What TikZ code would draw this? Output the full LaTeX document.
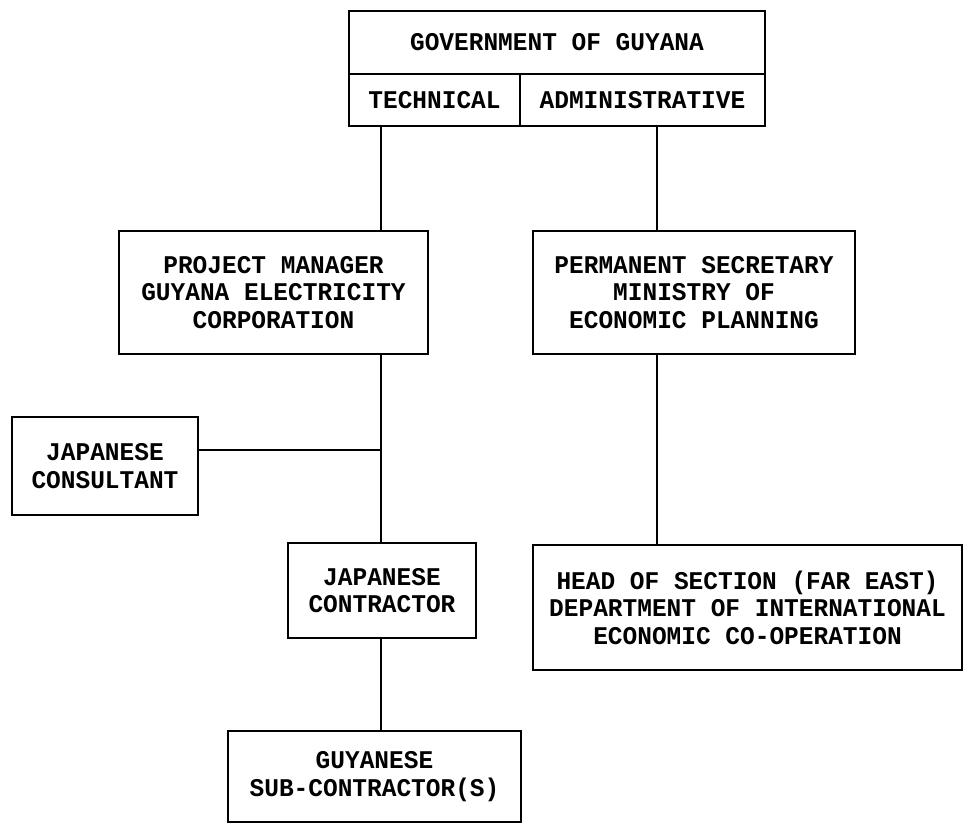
\documentclass[tikz,border=0pt]{standalone}
\usepackage{fontspec}
\setmonofont[FakeStretch=0.96]{Liberation Mono}
\begin{document}
\begin{tikzpicture}[x=1pt,y=-1pt,
  box/.style={draw, line width=1.6pt, inner sep=0pt, align=center,
    font=\ttfamily\bfseries\fontsize{25.5}{27.5}\selectfont},
  link/.style={line width=1.6pt}]
\useasboundingbox (0,0) rectangle (965,824);
% top box
\node[box, minimum width=416, minimum height=63] (gov) at (557,42.5) {GOVERNMENT OF GUYANA};
\node[box, minimum width=171, minimum height=52] (tech) at (434.5,100) {TECHNICAL};
\node[box, minimum width=245, minimum height=52] (admin) at (642.5,100) {ADMINISTRATIVE};
% second level
\node[box, minimum width=309, minimum height=123] (pm) at (273.5,292.5) {PROJECT MANAGER\\GUYANA ELECTRICITY\\CORPORATION};
\node[box, minimum width=322, minimum height=123] (ps) at (694,292.5) {PERMANENT SECRETARY\\MINISTRY OF\\ECONOMIC PLANNING};
% left branch
\node[box, minimum width=186, minimum height=98] (jc) at (105,466) {JAPANESE\\CONSULTANT};
\node[box, minimum width=188, minimum height=95] (con) at (382,590.5) {JAPANESE\\CONTRACTOR};
\node[box, minimum width=293, minimum height=91] (guy) at (374.5,776.5) {GUYANESE\\SUB-CONTRACTOR(S)};
% right branch
\node[box, minimum width=429, minimum height=125] (hos) at (747.5,607.5) {HEAD OF SECTION (FAR EAST)\\DEPARTMENT OF INTERNATIONAL\\ECONOMIC CO-OPERATION};
% spines
\coordinate (ls) at (381,0);
\coordinate (rs) at (657,0);
\coordinate (jl) at (0,450);
\draw[link] (tech.south -| ls) -- (pm.north -| ls);
\draw[link] (admin.south -| rs) -- (ps.north -| rs);
\draw[link] (pm.south -| ls) -- (con.north -| ls);
\draw[link] (jc.east |- jl) -- (ls |- jl);
\draw[link] (con.south -| ls) -- (guy.north -| ls);
\draw[link] (ps.south -| rs) -- (hos.north -| rs);
\end{tikzpicture}
\end{document}
